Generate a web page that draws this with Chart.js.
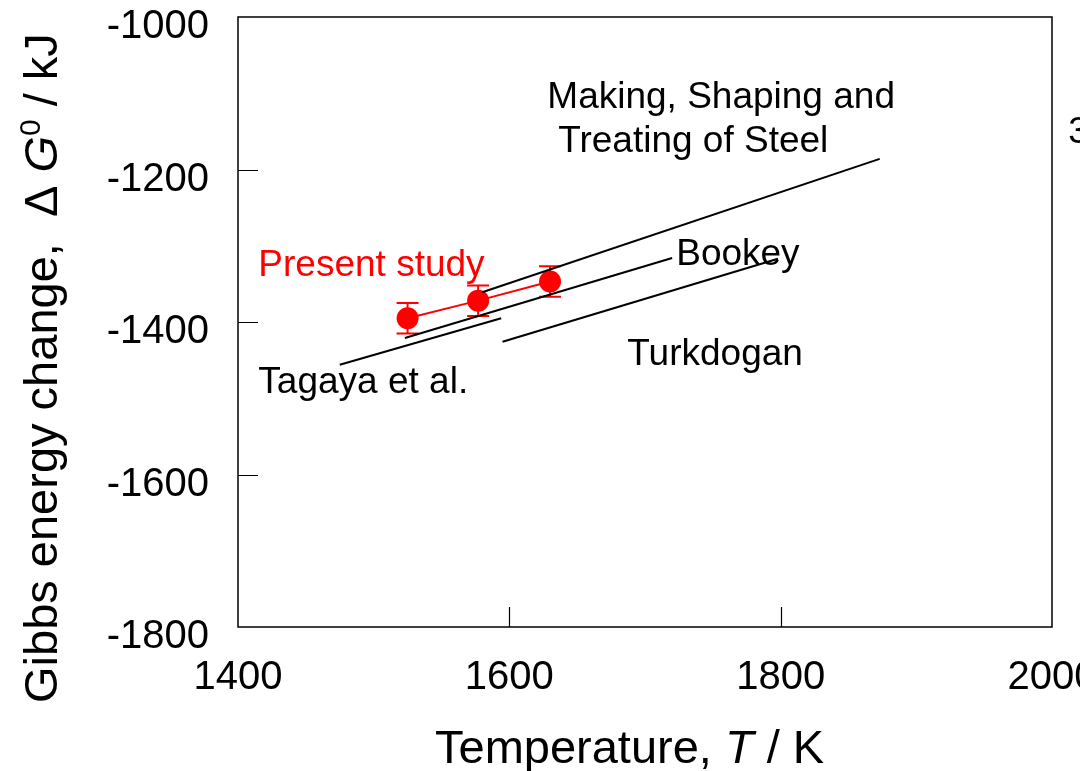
<!DOCTYPE html>
<html>
<head>
<meta charset="utf-8">
<script src="https://cdn.jsdelivr.net/npm/chart.js@4/dist/chart.umd.min.js"></script>
<style>
  html, body { margin: 0; padding: 0; background: #fff; }
  canvas { display: block; }
</style>
</head>
<body>
<canvas id="gibbsChart" width="1080" height="771"></canvas>
<script>
// measured values (T in K, ΔG0 in kJ)
const presentT = [1525, 1577, 1630];
const presentG = [-1395, -1372, -1347];
const presentErr = [20, 20, 20];

const makingT = [1580, 1873];
const makingG = [-1361, -1186];
const bookeyT = [1523, 1720];
const bookeyG = [-1421, -1316];
const tagayaT = [1475, 1594];
const tagayaG = [-1456, -1395];
const turkdoganT = [1595, 1798];
const turkdoganG = [-1426, -1317];

const xTicks = [1400, 1600, 1800, 2000];
const yTicks = [-1800, -1600, -1400, -1200, -1000];

const FONT = '"Liberation Sans", Arial, sans-serif';

function toPoints(xs, ys) {
  return xs.map((x, i) => ({ x: x, y: ys[i] }));
}

function refLine(xs, ys) {
  return {
    data: toPoints(xs, ys),
    showLine: true,
    borderColor: '#000',
    borderWidth: 2,
    pointRadius: 0,
    fill: false
  };
}

function noPad(s) {
  s.paddingLeft = 0; s.paddingRight = 0;
  s.paddingTop = 0; s.paddingBottom = 0;
}

// text labels placed in data coordinates
const labels = [
  { text: 'Making, Shaping and', x: 1628, y: -1119, color: '#000' },
  { text: 'Treating of Steel', x: 1636, y: -1177, color: '#000' },
  { text: 'Present study', x: 1415, y: -1340, color: '#ff0000' },
  { text: 'Bookey', x: 1723, y: -1325, color: '#000' },
  { text: 'Turkdogan', x: 1687, y: -1456, color: '#000' },
  { text: 'Tagaya et al.', x: 1415, y: -1493, color: '#000' },
  { text: '3', x: 2012, y: -1165, color: '#000' }
];

const decorations = {
  id: 'decorations',
  beforeDatasetsDraw(chart) {
    const ctx = chart.ctx;
    const xs = chart.scales.x, ys = chart.scales.y;
    // error bars
    ctx.save();
    ctx.strokeStyle = '#ff0000';
    ctx.lineWidth = 2;
    presentT.forEach((t, i) => {
      const px = xs.getPixelForValue(t);
      const top = ys.getPixelForValue(presentG[i] + presentErr[i]);
      const bot = ys.getPixelForValue(presentG[i] - presentErr[i]);
      ctx.beginPath();
      ctx.moveTo(px, top); ctx.lineTo(px, bot);
      ctx.moveTo(px - 11, top); ctx.lineTo(px + 11, top);
      ctx.moveTo(px - 11, bot); ctx.lineTo(px + 11, bot);
      ctx.stroke();
    });
    ctx.restore();
  },
  afterDraw(chart) {
    const ctx = chart.ctx;
    const a = chart.chartArea;
    const xs = chart.scales.x, ys = chart.scales.y;
    ctx.save();
    // frame
    ctx.strokeStyle = '#000';
    ctx.lineWidth = 1.5;
    ctx.strokeRect(a.left, a.top, a.right - a.left, a.bottom - a.top);
    // inward ticks (skip the corners)
    ctx.lineWidth = 1.2;
    ctx.beginPath();
    xTicks.slice(1, -1).forEach(v => {
      const px = Math.round(xs.getPixelForValue(v)) + 0.5;
      ctx.moveTo(px, a.bottom); ctx.lineTo(px, a.bottom - 20);
    });
    yTicks.slice(1, -1).forEach(v => {
      const py = Math.round(ys.getPixelForValue(v)) + 0.5;
      ctx.moveTo(a.left, py); ctx.lineTo(a.left + 20, py);
    });
    ctx.stroke();

    // annotations
    ctx.font = '37px ' + FONT;
    ctx.textBaseline = 'alphabetic';
    ctx.textAlign = 'left';
    labels.forEach(l => {
      ctx.fillStyle = l.color;
      ctx.fillText(l.text, xs.getPixelForValue(l.x), ys.getPixelForValue(l.y));
    });

    // x axis title
    ctx.fillStyle = '#000';
    let x = 435;
    const parts = [
      ['Temperature, ', 'normal'],
      ['T', 'italic'],
      [' / K', 'normal']
    ];
    parts.forEach(p => {
      ctx.font = p[1] + ' 47px ' + FONT;
      ctx.fillText(p[0], x, 763);
      x += ctx.measureText(p[0]).width;
    });

    // y axis title
    ctx.translate(57, 703);
    ctx.rotate(-Math.PI / 2);
    let y0 = 0;
    const yparts = [
      ['Gibbs energy change,  \u0394 ', 'normal', 47, 0],
      ['G', 'italic', 47, 0],
      ['0', 'normal', 30, -17],
      [' / kJ', 'normal', 47, 0]
    ];
    yparts.forEach(p => {
      ctx.font = p[1] + ' ' + p[2] + 'px ' + FONT;
      ctx.fillText(p[0], y0, p[3]);
      y0 += ctx.measureText(p[0]).width;
    });
    ctx.restore();
  }
};

new Chart(document.getElementById('gibbsChart'), {
  type: 'scatter',
  data: {
    datasets: [
      refLine(makingT, makingG),
      refLine(bookeyT, bookeyG),
      refLine(tagayaT, tagayaG),
      refLine(turkdoganT, turkdoganG),
      {
        data: toPoints(presentT, presentG),
        showLine: true,
        borderColor: '#ff0000',
        borderWidth: 2,
        pointRadius: 11,
        pointBackgroundColor: '#ff0000',
        pointBorderWidth: 0,
        fill: false
      }
    ]
  },
  options: {
    responsive: false,
    animation: false,
    events: [],
    layout: { padding: { top: 17, right: 28, left: 0, bottom: 0 }, autoPadding: false },
    plugins: { legend: { display: false }, tooltip: { enabled: false } },
    scales: {
      x: {
        type: 'linear',
        min: 1400, max: 2000,
        afterBuildTicks: s => { s.ticks = xTicks.map(v => ({ value: v })); },
        afterFit: s => { s.height = 144; noPad(s); },
        grid: { display: false, drawTicks: false },
        border: { display: false },
        ticks: {
          padding: 27,
          color: '#000',
          font: { family: FONT, size: 40 },
          maxRotation: 0,
          callback: v => String(v)
        }
      },
      y: {
        type: 'linear',
        min: -1800, max: -1000,
        afterBuildTicks: s => { s.ticks = yTicks.map(v => ({ value: v })); },
        afterFit: s => { s.width = 238; noPad(s); },
        grid: { display: false, drawTicks: false },
        border: { display: false },
        ticks: {
          padding: 29,
          labelOffset: 10,
          color: '#000',
          font: { family: FONT, size: 40 },
          callback: v => String(v)
        }
      }
    }
  },
  plugins: [decorations]
});
</script>
</body>
</html>
